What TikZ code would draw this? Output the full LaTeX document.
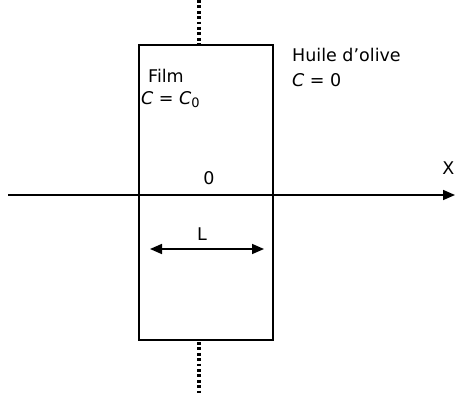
\documentclass[tikz,border=0pt]{standalone}
\usepackage{fontspec}
\setmainfont{DejaVu Sans}
\usetikzlibrary{arrows.meta}
\begin{document}
\begin{tikzpicture}[x=1pt,y=-1pt,
  lbl/.style={inner sep=0pt,font=\fontsize{17.5}{21}\selectfont},
  boxline/.style={line width=2pt},
  dotline/.style={line width=3.2pt,dash pattern=on 2.8pt off 2.6pt},
  tip/.style={-{Triangle[length=12pt,width=10pt]}}]
\useasboundingbox (0,0) rectangle (455,396);
\coordinate (bTL) at (139,45);
\coordinate (bBR) at (273,340);
\draw[boxline] (bTL) rectangle (bBR);
\coordinate (dT0) at (199,0);
\coordinate (dT1) at (199,44);
\coordinate (dB0) at (199,342);
\coordinate (dB1) at (199,396);
\draw[dotline] (dT0) -- (dT1);
\draw[dotline] (dB0) -- (dB1);
\coordinate (axL) at (8,195);
\coordinate (axR) at (455,195);
\draw[line width=1.6pt,tip] (axL) -- (axR);
\coordinate (lA) at (150,249);
\coordinate (lB) at (264,249);
\draw[line width=1.6pt,{Triangle[length=12pt,width=10pt]}-{Triangle[length=12pt,width=10pt]}] (lA) -- (lB);
\node[lbl,anchor=base west] (film) at (148,82) {Film};
\node[lbl,anchor=base west] (cc0) at (141,104) {\textit{C} = \textit{C}\raisebox{-0.22em}{\fontsize{13}{15}\selectfont 0}};
\node[lbl,anchor=base west] (huile) at (292,62) {Huile d’olive};
\node[lbl,anchor=base west] (c0) at (292,86) {\textit{C} = 0};
\node[lbl] (zero) at (209,178) {0};
\node[lbl] (L) at (202,234) {L};
\node[lbl,anchor=east] (X) at (454.5,168) {X};
\end{tikzpicture}
\end{document}
